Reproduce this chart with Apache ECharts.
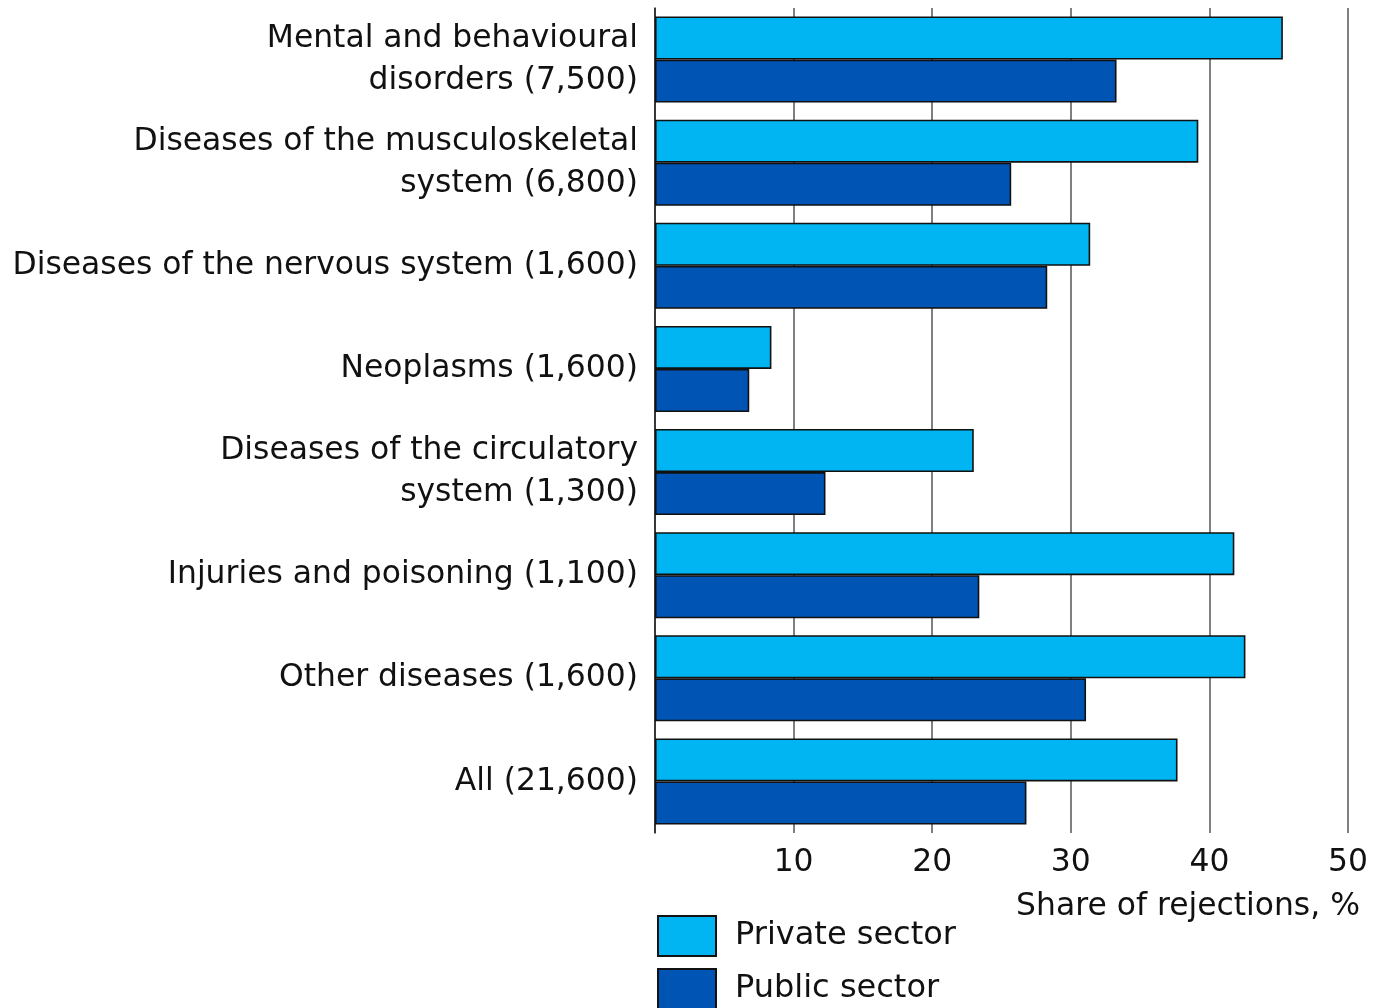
<!DOCTYPE html>
<html><head><meta charset="utf-8">
<script src="https://cdn.jsdelivr.net/npm/echarts@6/dist/echarts.min.js"></script>
<style>html,body{margin:0;padding:0;background:#fff}#c{width:1379px;height:1008px}</style>
</head><body><div id="c"></div>
<script>
const categories = [
  'Mental and behavioural\ndisorders (7,500)',
  'Diseases of the musculoskeletal\nsystem (6,800)',
  'Diseases of the nervous system (1,600)',
  'Neoplasms (1,600)',
  'Diseases of the circulatory\nsystem (1,300)',
  'Injuries and poisoning (1,100)',
  'Other diseases (1,600)',
  'All (21,600)'
];
const privateSector = [45.3, 39.2, 31.4, 8.4, 23.0, 41.8, 42.6, 37.7];
const publicSector  = [33.3, 25.7, 28.3, 6.8, 12.3, 23.4, 31.1, 26.8];
const seriesNames = ['Private sector', 'Public sector'];
const axisTitle = 'Share of rejections, %';

const FONT = 'DejaVu Sans';
const FS = 31.4;
const chart = echarts.init(document.getElementById('c'), null, {renderer: 'canvas'});
const legendBase = {
  orient: 'vertical', left: 657, padding: 0,
  itemWidth: 58, itemHeight: 40,
  icon: 'rect',
  textStyle: {fontFamily: FONT, fontSize: 32, color: '#111', padding: [0,0,0,14]}
};
chart.setOption({
  animation: false,
  textStyle: {fontFamily: FONT, color: '#111'},
  grid: {left: 655, top: 8, width: 693, height: 825, containLabel: false},
  title: {
    text: axisTitle, right: 19, top: 891, padding: 0,
    textStyle: {fontFamily: FONT, fontSize: FS, fontWeight: 'normal', color: '#111'}
  },
  legend: [
    Object.assign({}, legendBase, {top: 915, data: [seriesNames[0]]}),
    Object.assign({}, legendBase, {top: 968, data: [seriesNames[1]]})
  ],
  xAxis: {
    type: 'value', min: 0, max: 50, interval: 10,
    axisLine: {show: false},
    axisTick: {show: false},
    axisLabel: {showMinLabel: false, fontSize: FS, color: '#111', margin: 14, fontFamily: FONT},
    splitLine: {show: true, lineStyle: {color: '#555', width: 1.5}}
  },
  yAxis: {
    type: 'category', data: categories, inverse: true,
    axisLine: {show: true, lineStyle: {color: '#222', width: 1.5}},
    axisTick: {show: false},
    axisLabel: {fontSize: FS, color: '#111', margin: 17, lineHeight: 42, fontFamily: FONT, align: 'right'}
  },
  series: [
    {name: seriesNames[0], type: 'bar', data: privateSector, barGap: '0%', barCategoryGap: '16.5%',
     itemStyle: {color: '#00B5F1', borderColor: '#111', borderWidth: 1.6}},
    {name: seriesNames[1], type: 'bar', data: publicSector,
     itemStyle: {color: '#0054B3', borderColor: '#111', borderWidth: 1.6}}
  ]
});
</script></body></html>
